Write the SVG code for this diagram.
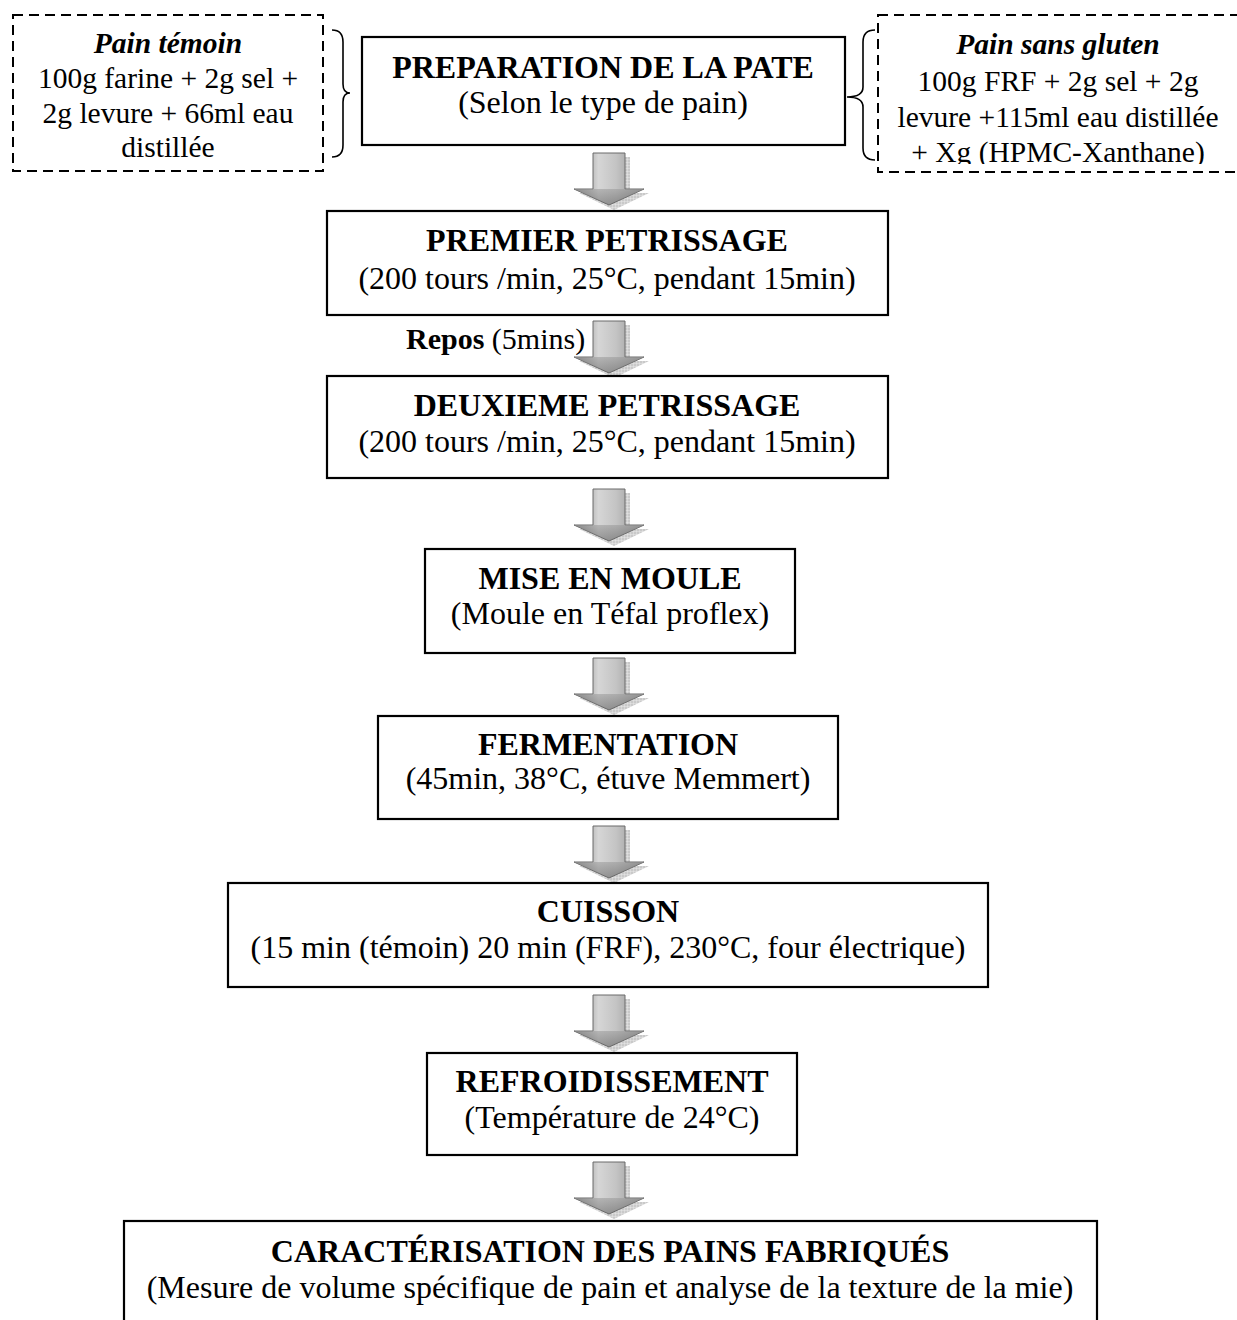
<svg xmlns="http://www.w3.org/2000/svg" width="1237" height="1320" viewBox="0 0 1237 1320">
<style>
.box{fill:#fff;stroke:#000;stroke-width:2.2}
.dash{fill:#fff;stroke:#000;stroke-width:2;stroke-dasharray:10 6}
.brace{fill:none;stroke:#000;stroke-width:1.6}
text{font-family:"Liberation Serif","Times New Roman",serif;fill:#000;text-anchor:middle}
.t{font-size:32px;font-weight:bold}
.s{font-size:32px}
.si{font-size:29.5px}
.sb{font-size:29.5px;font-weight:bold;font-style:italic}
</style>
<defs>
<linearGradient id="ag" x1="0" y1="0" x2="1" y2="0">
<stop offset="0" stop-color="#7a7a7a"/>
<stop offset="0.35" stop-color="#d6d6d6"/>
<stop offset="0.6" stop-color="#c4c4c4"/>
<stop offset="1" stop-color="#8c8c8c"/>
</linearGradient>
<linearGradient id="hg" x1="0" y1="0" x2="0" y2="1">
<stop offset="0" stop-color="#9a9a9a"/>
<stop offset="1" stop-color="#5e5e5e"/>
</linearGradient>
<pattern id="grid" width="3" height="3" patternUnits="userSpaceOnUse">
<rect width="3" height="3" fill="#c9c9c9"/>
<path d="M0 0H3M0 0V3" stroke="#eeeeee" stroke-width="0.8"/>
</pattern>
<g id="arrow">
<path d="M-12,4 L21,4 L21,40 L40,40 L5,57 L-30,40 L-12,40 Z" fill="url(#grid)"/>
<path d="M-16,0 L16,0 L16,36 L35,36 L0,52 L-35,36 L-16,36 Z" fill="url(#ag)" stroke="#6a6a6a" stroke-width="1"/>
<path d="M-35,36 L35,36 L0,52 Z" fill="url(#hg)" opacity="0.55"/>
</g>
<clipPath id="rclip"><rect x="870" y="0" width="367" height="164"/></clipPath>
</defs>

<g id="connectors">
<path class="brace" d="M332,30 Q343,30 343,42 L343,84 Q343,93 350,93 Q343,93 343,102 L343,145 Q343,157 332,157"/>
<path class="brace" d="M875,30 Q863,30 863,42 L863,87 Q863,97 847,97 Q863,97 863,107 L863,148 Q863,160 875,160"/>
<use href="#arrow" x="609" y="153"/>
<use href="#arrow" x="609" y="321"/>
<use href="#arrow" x="609" y="489"/>
<use href="#arrow" x="609" y="658"/>
<use href="#arrow" x="609" y="826"/>
<use href="#arrow" x="609" y="995"/>
<use href="#arrow" x="609" y="1162"/>
<text x="406" y="349" style="text-anchor:start;font-size:30px"><tspan font-weight="bold">Repos</tspan> (5mins)</text>
</g>

<g id="pain-temoin">
<rect class="dash" x="13" y="15" width="310" height="156"/>
<text class="sb" x="168" y="53">Pain témoin</text>
<text class="si" x="168" y="88">100g farine + 2g sel +</text>
<text class="si" x="168" y="123">2g levure + 66ml eau</text>
<text class="si" x="168" y="157">distillée</text>
</g>

<g id="pain-sans-gluten">
<rect class="dash" x="878" y="15" width="380" height="157"/>
<g clip-path="url(#rclip)">
<text class="sb" x="1058" y="54">Pain sans gluten</text>
<text class="si" x="1058" y="91">100g FRF + 2g sel + 2g</text>
<text class="si" x="1058" y="127">levure +115ml eau distillée</text>
<text class="si" x="1058" y="162">+ Xg (HPMC-Xanthane)</text>
</g>
</g>

<g id="preparation">
<rect class="box" x="362" y="37" width="483" height="108"/>
<text class="t" x="603" y="78">PREPARATION DE LA PATE</text>
<text class="s" x="603" y="113">(Selon le type de pain)</text>
</g>

<g id="premier">
<rect class="box" x="327" y="211" width="561" height="104"/>
<text class="t" x="607" y="251">PREMIER PETRISSAGE</text>
<text class="s" x="607" y="289">(200 tours /min, 25°C, pendant 15min)</text>
</g>

<g id="deuxieme">
<rect class="box" x="327" y="376" width="561" height="102"/>
<text class="t" x="607" y="416">DEUXIEME PETRISSAGE</text>
<text class="s" x="607" y="452">(200 tours /min, 25°C, pendant 15min)</text>
</g>

<g id="moule">
<rect class="box" x="425" y="549" width="370" height="104"/>
<text class="t" x="610" y="589">MISE EN MOULE</text>
<text class="s" x="610" y="624">(Moule en Téfal proflex)</text>
</g>

<g id="fermentation">
<rect class="box" x="378" y="716" width="460" height="103"/>
<text class="t" x="608" y="755">FERMENTATION</text>
<text class="s" x="608" y="789">(45min, 38°C, étuve Memmert)</text>
</g>

<g id="cuisson">
<rect class="box" x="228" y="883" width="760" height="104"/>
<text class="t" x="608" y="922">CUISSON</text>
<text class="s" x="608" y="958">(15 min (témoin) 20 min (FRF), 230°C, four électrique)</text>
</g>

<g id="refroidissement">
<rect class="box" x="427" y="1053" width="370" height="102"/>
<text class="t" x="612" y="1092">REFROIDISSEMENT</text>
<text class="s" x="612" y="1128">(Température de 24°C)</text>
</g>

<g id="caracterisation">
<rect class="box" x="124" y="1221" width="973" height="120"/>
<text class="t" x="610" y="1262">CARACTÉRISATION DES PAINS FABRIQUÉS</text>
<text class="s" x="610" y="1298">(Mesure de volume spécifique de pain et analyse de la texture de la mie)</text>
</g>
</svg>
